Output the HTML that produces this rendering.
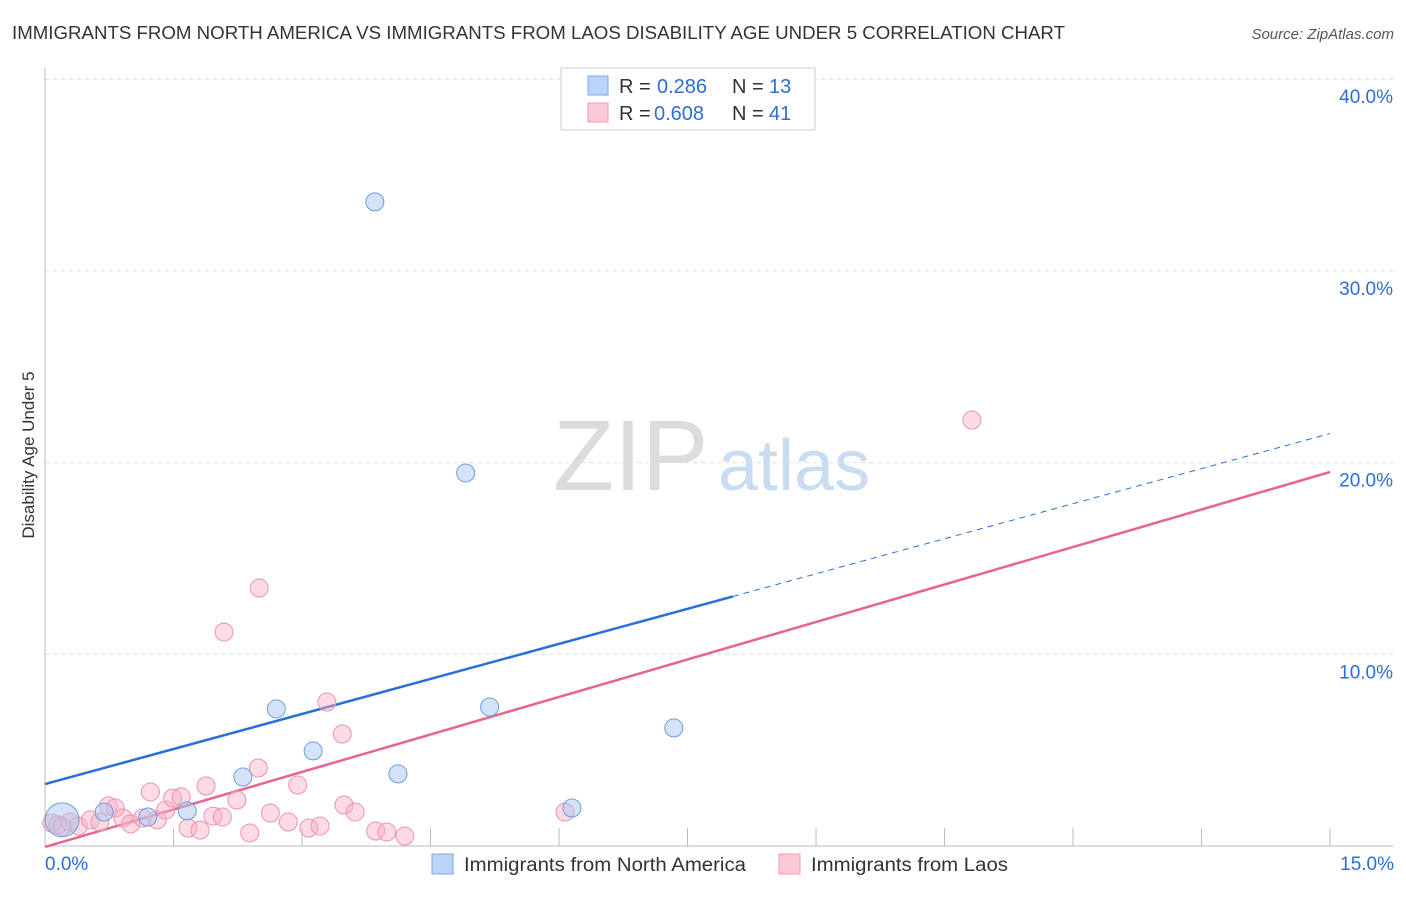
<!DOCTYPE html>
<html><head><meta charset="utf-8"><style>
body{margin:0;background:#fff;font-family:"Liberation Sans",sans-serif}
svg text{font-family:"Liberation Sans",sans-serif}
</style></head><body>
<svg width="1406" height="892" viewBox="0 0 1406 892">
<text x="12" y="39" font-size="18" fill="#333" textLength="1053" lengthAdjust="spacingAndGlyphs">IMMIGRANTS FROM NORTH AMERICA VS IMMIGRANTS FROM LAOS DISABILITY AGE UNDER 5 CORRELATION CHART</text>
<text x="1394" y="39" font-size="15" fill="#555" font-style="italic" text-anchor="end">Source: ZipAtlas.com</text>
<text x="0" y="0" transform="translate(34,455) rotate(-90)" font-size="17" fill="#333" text-anchor="middle">Disability Age Under 5</text>
<g>
<text x="553" y="490" font-family="Liberation Serif,serif" font-size="100" fill="#dcdcdc">ZIP</text>
<text x="718" y="490" font-size="72" fill="#c9dcf2">atlas</text>
</g>
<g id="grid"></g><g id="axes"></g><g id="lines"></g><g id="pts"></g>
<g>
<rect x="561" y="68" width="254" height="62" fill="#fff" stroke="#ccc"/>
<rect x="588" y="76" width="20" height="19" fill="#b9d4f6" stroke="#7aaae6"/>
<rect x="588" y="103" width="20" height="19" fill="#fbc8d6" stroke="#f09ab3"/>
<text x="619" y="93" font-size="20" fill="#333">R =</text>
<text x="657" y="93" font-size="20" fill="#2a6fd6">0.286</text>
<text x="732" y="93" font-size="20" fill="#333">N =</text>
<text x="769" y="93" font-size="20" fill="#2a6fd6">13</text>
<text x="619" y="120" font-size="20" fill="#333">R =</text>
<text x="654" y="120" font-size="20" fill="#2a6fd6">0.608</text>
<text x="732" y="120" font-size="20" fill="#333">N =</text>
<text x="769" y="120" font-size="20" fill="#2a6fd6">41</text>
</g>
<g>
<rect x="432" y="854" width="21" height="20" fill="#b9d4f6" stroke="#7aaae6"/>
<text x="464" y="871" font-size="19" fill="#333" textLength="282" lengthAdjust="spacingAndGlyphs">Immigrants from North America</text>
<rect x="779" y="854" width="21" height="20" fill="#fbc8d6" stroke="#f09ab3"/>
<text x="811" y="871" font-size="19" fill="#333" textLength="197" lengthAdjust="spacingAndGlyphs">Immigrants from Laos</text>
</g>
</svg>
<script>
const blueX=[0.20,0.69,1.20,1.66,2.31,2.70,3.13,3.85,4.12,4.91,5.19,6.15,7.34];
const blueY=[1.36,1.77,1.51,1.83,3.60,7.15,4.96,33.6,3.76,19.46,7.25,1.98,6.16];
const pinkX=[0.08,0.15,0.29,0.39,0.53,0.64,0.74,0.82,0.91,1.00,1.14,1.23,1.31,1.41,1.49,1.59,1.67,1.81,1.88,1.96,2.07,2.09,2.24,2.39,2.49,2.50,2.63,2.84,2.95,3.08,3.21,3.29,3.47,3.49,3.62,3.86,3.99,4.20,6.07,10.82,0.20];
const pinkY=[1.20,1.10,1.25,1.04,1.36,1.25,2.09,1.98,1.46,1.15,1.46,2.82,1.36,1.88,2.50,2.56,0.94,0.83,3.13,1.56,1.51,11.16,2.40,0.68,4.07,13.46,1.72,1.25,3.18,0.94,1.04,7.51,5.84,2.14,1.77,0.78,0.73,0.52,1.77,22.22,1.0];
const yTicks=[10,20,30,40];
const xTickLabels=["0.0%","15.0%"];
const blueLine=[3.23,1.219,8.03];
const pinkLine=[-0.05,1.304];
const NS="http://www.w3.org/2000/svg";
const sx=v=>45+v*85.67, sy=v=>846-v*19.17;
function mk(p,t,a){const e=document.createElementNS(NS,t);for(const k in a)e.setAttribute(k,a[k]);p.appendChild(e);return e;}
const grid=document.getElementById('grid'),axes=document.getElementById('axes'),lines=document.getElementById('lines'),pts=document.getElementById('pts');
yTicks.forEach(v=>{
 const l=mk(grid,'line',{x1:45,x2:1393,y1:sy(v),y2:sy(v),stroke:'#ddd','stroke-dasharray':'4,4'});
 
 
 const t=mk(grid,'text',{x:1393,y:sy(v)+24,'font-size':19,fill:'#2a6fd6','text-anchor':'end'});
 t.textContent=v.toFixed(1)+'%';
 
 
});
const ax=mk(axes,'line',{x1:45,x2:1393,y1:846,y2:846,stroke:'#bbb'});


const ay=mk(axes,'line',{x1:45,x2:45,y1:68,y2:846,stroke:'#bbb'});


for(let i=1;i<=10;i++){const tk=mk(axes,'line',{x1:sx(i*1.5),x2:sx(i*1.5),y1:828,y2:846,stroke:'#bbb'});
 
 }
xTickLabels.forEach((s,i)=>{const t=mk(axes,'text',{x:i?1394:45,y:870,'font-size':19,fill:'#2a6fd6','text-anchor':i?'end':'start'});t.textContent=s;
 
 });
const bl=mk(lines,'line',{x1:sx(0),y1:sy(blueLine[0]),x2:sx(blueLine[2]),y2:sy(blueLine[0]+blueLine[1]*blueLine[2]),stroke:'#2a6fd6','stroke-width':2.5});


const bd=mk(lines,'line',{x1:sx(blueLine[2]),y1:sy(blueLine[0]+blueLine[1]*blueLine[2]),x2:sx(15),y2:sy(blueLine[0]+blueLine[1]*15),stroke:'#2a6fd6','stroke-width':1,'stroke-dasharray':'6,5'});


const pl=mk(lines,'line',{x1:sx(0),y1:sy(pinkLine[0]),x2:sx(15),y2:sy(pinkLine[0]+pinkLine[1]*15),stroke:'#e8648e','stroke-width':2.5});


pinkX.forEach((x,i)=>{const c=mk(pts,'circle',{cx:sx(x),cy:sy(pinkY[i]),r:9,fill:'rgba(248,175,196,0.45)',stroke:'#eb93ae','stroke-width':1});
 
 });
blueX.forEach((x,i)=>{const c=mk(pts,'circle',{cx:sx(x),cy:sy(blueY[i]),r:i==0?17:9,fill:'rgba(170,200,240,0.5)',stroke:'#6c9edc','stroke-width':1});
 
 });
</script>
</body></html>
